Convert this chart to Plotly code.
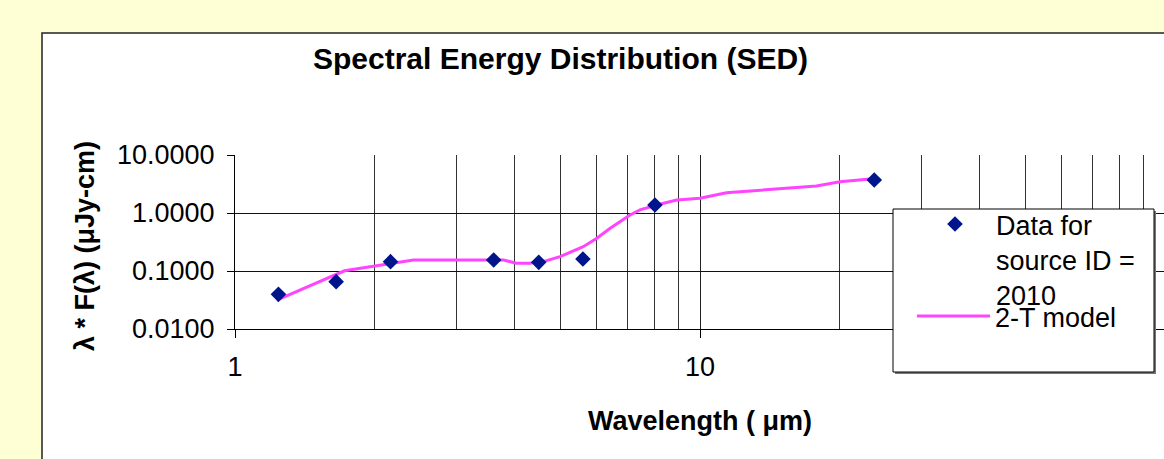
import plotly.graph_objects as go

# ---- data ----
obs_wavelength = [1.24, 1.65, 2.16, 3.6, 4.5, 5.6, 8.0, 23.7]
obs_flux = [0.0396, 0.0655, 0.145, 0.155, 0.141, 0.161, 1.37, 3.71]

model_wavelength = [1.23, 1.72, 2.42, 3.78, 4.03, 4.31, 4.68, 5.0, 5.61, 6.0,
                    6.41, 7.07, 7.43, 8.07, 8.91, 10.0, 11.4, 17.8, 20.0, 23.2]
model_flux = [0.0316, 0.101, 0.155, 0.155, 0.136, 0.136, 0.151, 0.177, 0.262, 0.366,
              0.545, 0.924, 1.13, 1.37, 1.67, 1.79, 2.24, 2.92, 3.47, 3.86]

x_major = [1, 10, 100]
x_major_text = ["1", "10", "100"]
x_minor = [2, 3, 4, 5, 6, 7, 8, 9, 20, 30, 40, 50, 60, 70, 80, 90]
y_ticks = [0.01, 0.1, 1, 10]
y_tick_text = ["0.0100", "0.1000", "1.0000", "10.0000"]

title_text = "Spectral Energy Distribution (SED)"
x_title = "Wavelength ( μm)"
y_title = "λ * F(λ) (μJy-cm)"
data_name = "Data for<br>source ID =<br>2010"
model_name = "2-T model"

# ---- layout geometry (pixels) ----
W, H = 1164, 459
L, R, T, B = 235, 0, 155, 130
pw = W - L - R
ph = H - T - B


def px(x):
    return (x - L) / pw


def py(y):
    return (H - B - y) / ph


FONT = "Arial, 'Liberation Sans', sans-serif"

fig = go.Figure()
fig.add_trace(go.Scatter(
    x=model_wavelength, y=model_flux, mode="lines", name=model_name,
    line=dict(color="#FF44FF", width=3), legend="legend2"))
fig.add_trace(go.Scatter(
    x=obs_wavelength, y=obs_flux, mode="markers", name=data_name,
    marker=dict(symbol="diamond", size=12, color="#00148C"), legend="legend"))

fig.update_layout(
    width=W, height=H,
    margin=dict(l=L, r=R, t=T, b=B, pad=0),
    paper_bgcolor="#FFFFD6",
    plot_bgcolor="white",
    font=dict(family=FONT, size=27, color="black"),
    showlegend=True,
    legend=dict(x=px(914), y=py(200), xanchor="left", yanchor="top",
                bgcolor="rgba(0,0,0,0)", borderwidth=0, valign="top",
                font=dict(size=27, family=FONT), itemwidth=72),
    legend2=dict(x=px(912), y=py(292), xanchor="left", yanchor="top",
                 bgcolor="rgba(0,0,0,0)", borderwidth=0,
                 font=dict(size=27, family=FONT), itemwidth=73),
    xaxis=dict(type="log", range=[0, pw / 465.0], tickvals=x_major, ticktext=x_major_text,
               ticks="outside", ticklen=8, tickcolor="black", showline=True,
               linecolor="black", linewidth=1, showgrid=True, gridcolor="#222",
               gridwidth=1, zeroline=False, ticklabelstandoff=6,
               tickfont=dict(size=27, family=FONT),
               minor=dict(tickvals=x_minor, showgrid=True, gridcolor="#333",
                          gridwidth=1, ticks="")),
    yaxis=dict(type="log", range=[-2, 1], tickvals=y_ticks, ticktext=y_tick_text,
               ticks="outside", ticklen=7, tickcolor="black", showline=True,
               linecolor="black", linewidth=1, showgrid=True, gridcolor="#111",
               gridwidth=1, zeroline=False, ticklabelstandoff=7,
               tickfont=dict(size=27, family=FONT)),
    shapes=[
        # white chart area
        dict(type="rect", xref="paper", yref="paper", layer="below",
             x0=px(42), x1=px(1300), y0=py(600), y1=py(33),
             fillcolor="white", line=dict(color="#222", width=1.5)),
        # legend box shadow
        dict(type="rect", xref="paper", yref="paper", layer="above",
             x0=px(895), x1=px(1156), y0=py(374), y1=py(211),
             fillcolor="#777", line=dict(width=0)),
        # legend box
        dict(type="rect", xref="paper", yref="paper", layer="above",
             x0=px(893), x1=px(1154), y0=py(372), y1=py(209),
             fillcolor="white", line=dict(color="black", width=1)),
    ],
    annotations=[
        dict(text="<b>" + title_text + "</b>", xref="paper", yref="paper",
             x=px(560), y=py(58), xanchor="center", yanchor="middle",
             showarrow=False, font=dict(size=30, family=FONT)),
        dict(text="<b>" + x_title + "</b>", xref="paper", yref="paper",
             x=px(700), y=py(421), xanchor="center", yanchor="middle",
             showarrow=False, font=dict(size=27, family=FONT)),
        dict(text="<b>" + y_title + "</b>", xref="paper", yref="paper",
             x=px(85), y=py(246), xanchor="center", yanchor="middle",
             textangle=-90, showarrow=False, font=dict(size=27, family=FONT)),
    ],
)

fig.write_html("out.html", config={"displayModeBar": False},
               post_script="document.body.style.margin='0';document.body.style.overflow='hidden';")
